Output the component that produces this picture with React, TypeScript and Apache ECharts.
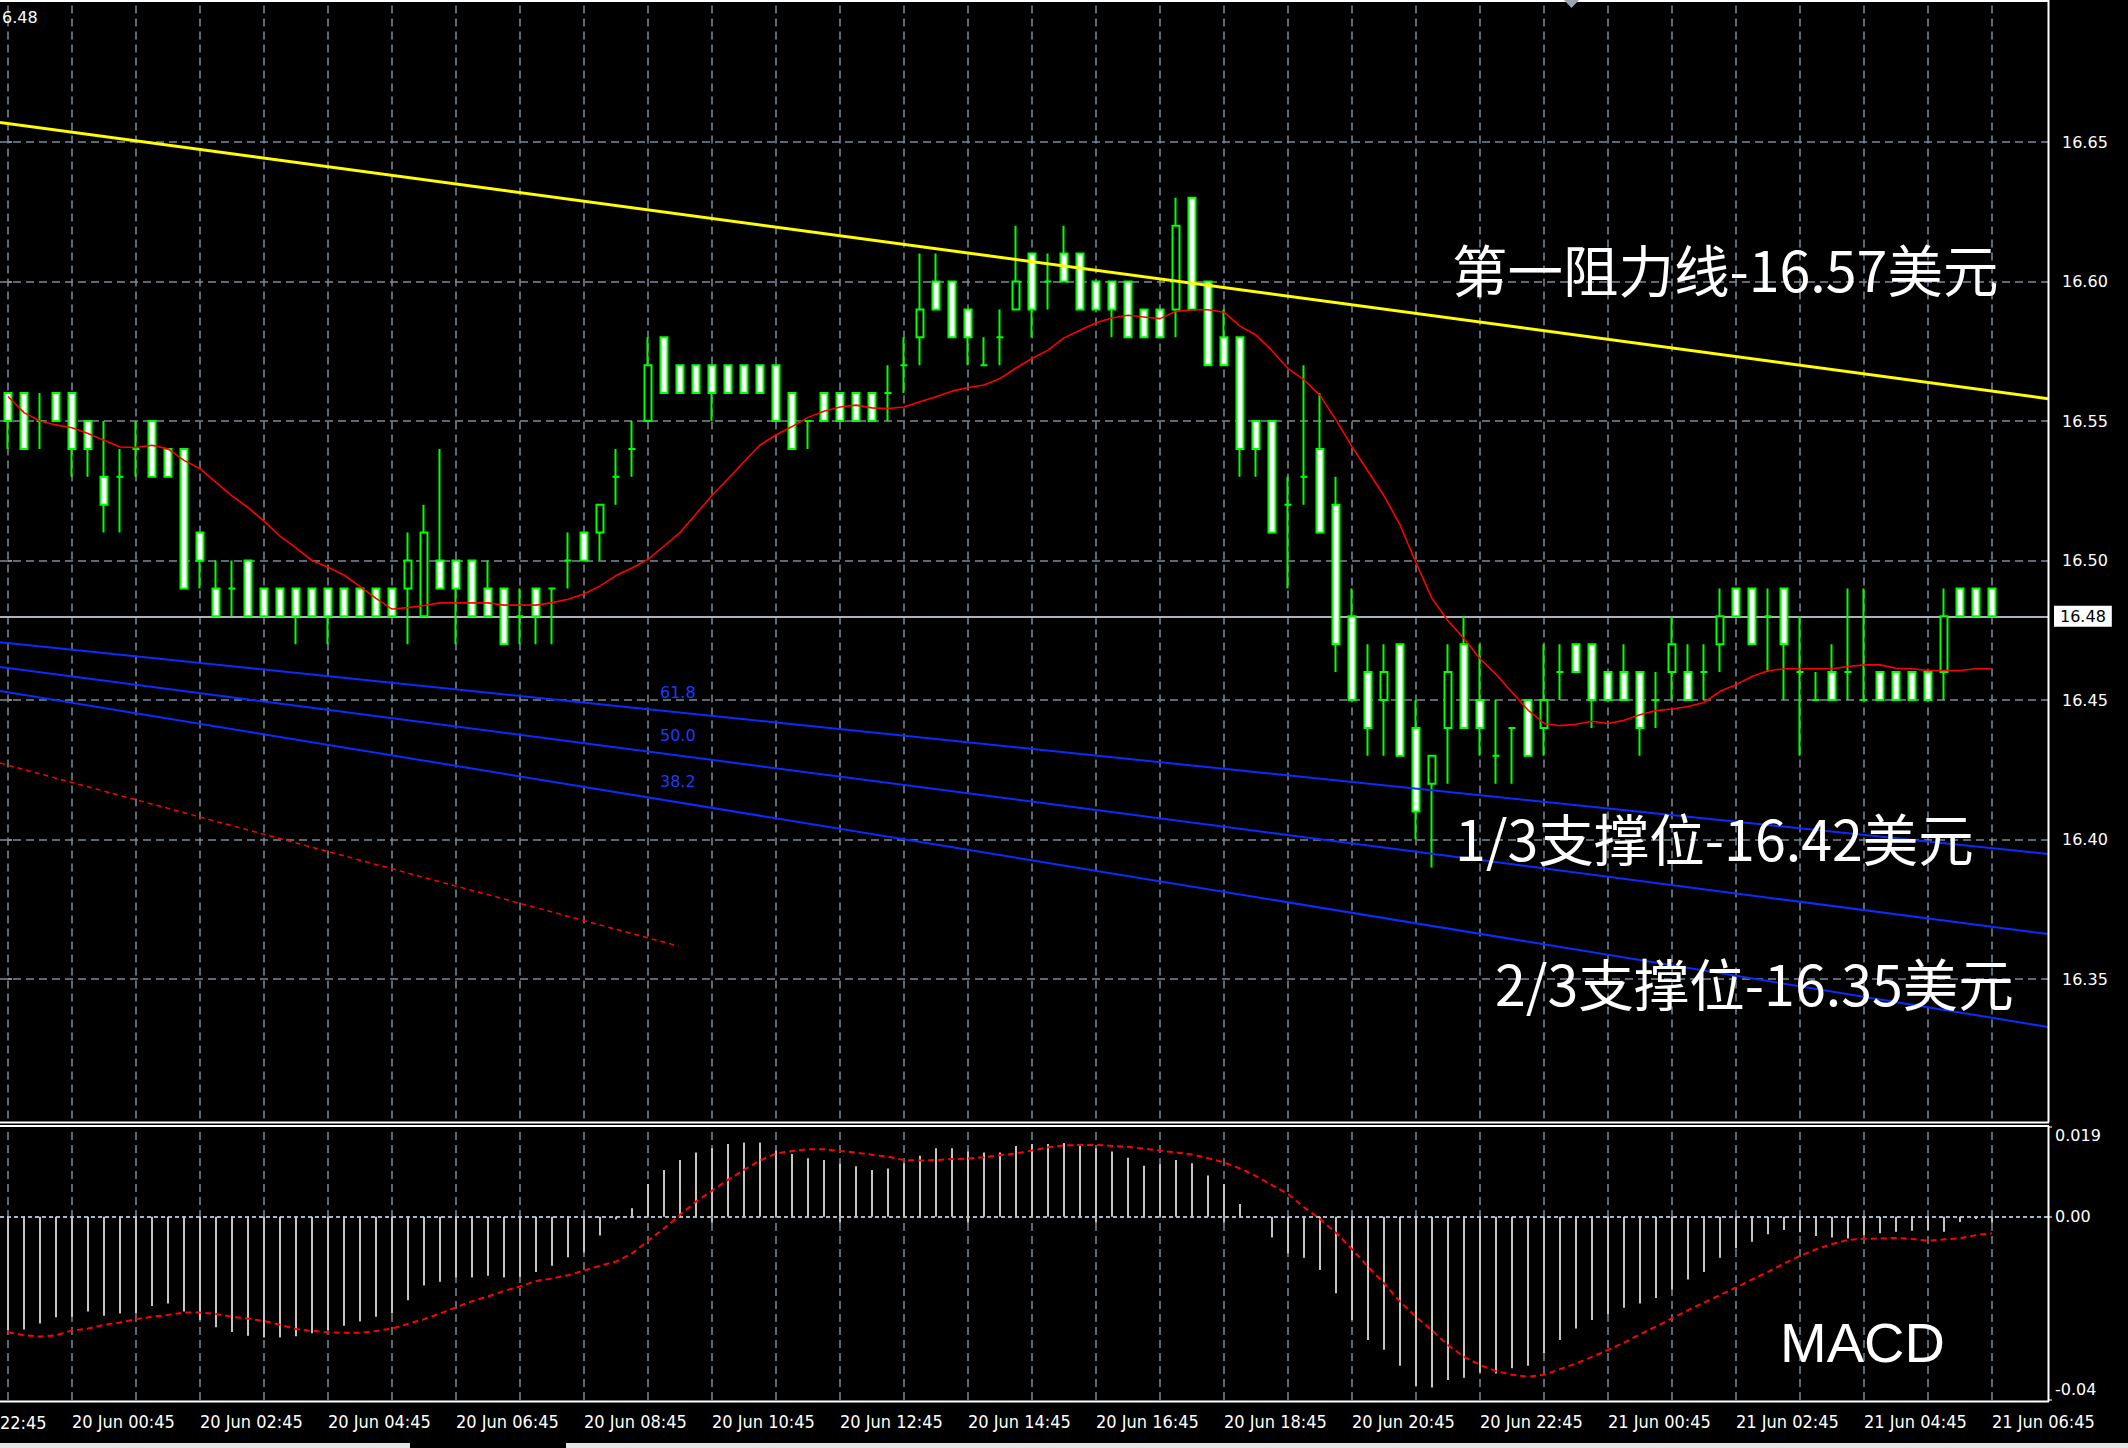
import React, { useEffect, useRef } from "react";
import * as echarts from "echarts";

// ---- time slots: 15-minute bars from 19 Jun 23:45, plus 3 empty slots on the right ----
const FIRST_DAY = 19;
const FIRST_MINUTE = 23 * 60 + 45;
const BAR_MINUTES = 15;
const SLOT_COUNT = 128;

const times: string[] = Array.from({ length: SLOT_COUNT }, (_, i) => {
  const t = FIRST_MINUTE + BAR_MINUTES * i;
  const day = FIRST_DAY + Math.floor(t / 1440);
  const m = t % 1440;
  const hh = String(Math.floor(m / 60)).padStart(2, "0");
  const mm = String(m % 60).padStart(2, "0");
  return `${day} Jun ${hh}:${mm}`;
});

// ---- candles: [open, close, low, high] ----
const ohlc: number[][] = [
  [16.56, 16.55, 16.54, 16.56], [16.56, 16.54, 16.54, 16.56], [16.55, 16.55, 16.54, 16.56], [16.56, 16.55, 16.55, 16.56],
  [16.56, 16.54, 16.53, 16.56], [16.55, 16.54, 16.53, 16.55], [16.53, 16.52, 16.51, 16.55], [16.53, 16.53, 16.51, 16.54],
  [16.54, 16.54, 16.53, 16.55], [16.55, 16.53, 16.53, 16.55], [16.54, 16.53, 16.53, 16.54], [16.54, 16.49, 16.49, 16.54],
  [16.51, 16.50, 16.49, 16.51], [16.49, 16.48, 16.48, 16.50], [16.49, 16.49, 16.48, 16.50], [16.50, 16.48, 16.48, 16.50],
  [16.49, 16.48, 16.48, 16.49], [16.49, 16.48, 16.48, 16.49], [16.49, 16.48, 16.47, 16.49], [16.49, 16.48, 16.48, 16.49],
  [16.49, 16.48, 16.47, 16.49], [16.49, 16.48, 16.48, 16.49], [16.49, 16.48, 16.48, 16.49], [16.49, 16.48, 16.48, 16.49],
  [16.49, 16.48, 16.48, 16.49], [16.49, 16.50, 16.47, 16.51], [16.48, 16.51, 16.48, 16.52], [16.50, 16.49, 16.49, 16.54],
  [16.50, 16.49, 16.47, 16.50], [16.50, 16.48, 16.48, 16.50], [16.49, 16.48, 16.48, 16.50], [16.49, 16.47, 16.47, 16.49],
  [16.48, 16.48, 16.47, 16.49], [16.49, 16.48, 16.47, 16.49], [16.49, 16.49, 16.47, 16.49], [16.50, 16.50, 16.49, 16.51],
  [16.51, 16.50, 16.50, 16.51], [16.51, 16.52, 16.50, 16.52], [16.53, 16.53, 16.52, 16.54], [16.54, 16.54, 16.53, 16.55],
  [16.55, 16.57, 16.55, 16.58], [16.58, 16.56, 16.56, 16.58], [16.57, 16.56, 16.56, 16.57], [16.57, 16.56, 16.56, 16.57],
  [16.57, 16.56, 16.55, 16.57], [16.57, 16.56, 16.56, 16.57], [16.57, 16.56, 16.56, 16.57], [16.57, 16.56, 16.56, 16.57],
  [16.57, 16.55, 16.55, 16.57], [16.56, 16.54, 16.54, 16.56], [16.55, 16.55, 16.54, 16.55], [16.56, 16.55, 16.55, 16.56],
  [16.56, 16.55, 16.55, 16.56], [16.56, 16.55, 16.55, 16.56], [16.56, 16.55, 16.55, 16.56], [16.56, 16.56, 16.55, 16.57],
  [16.57, 16.57, 16.56, 16.58], [16.58, 16.59, 16.57, 16.61], [16.60, 16.59, 16.59, 16.61], [16.60, 16.58, 16.58, 16.60],
  [16.59, 16.58, 16.57, 16.59], [16.57, 16.57, 16.57, 16.58], [16.58, 16.58, 16.57, 16.59], [16.59, 16.60, 16.59, 16.62],
  [16.61, 16.59, 16.58, 16.61], [16.60, 16.60, 16.59, 16.61], [16.61, 16.60, 16.60, 16.62], [16.61, 16.59, 16.59, 16.61],
  [16.60, 16.59, 16.59, 16.60], [16.60, 16.59, 16.58, 16.60], [16.60, 16.58, 16.58, 16.60], [16.59, 16.58, 16.58, 16.59],
  [16.59, 16.58, 16.58, 16.59], [16.59, 16.62, 16.58, 16.63], [16.63, 16.59, 16.59, 16.63], [16.60, 16.57, 16.57, 16.60],
  [16.58, 16.57, 16.57, 16.59], [16.58, 16.54, 16.53, 16.58], [16.55, 16.54, 16.53, 16.55], [16.55, 16.51, 16.51, 16.55],
  [16.52, 16.52, 16.49, 16.53], [16.53, 16.53, 16.52, 16.57], [16.54, 16.51, 16.51, 16.56], [16.52, 16.47, 16.46, 16.53],
  [16.48, 16.45, 16.45, 16.49], [16.46, 16.44, 16.43, 16.47], [16.45, 16.46, 16.43, 16.47], [16.47, 16.43, 16.43, 16.47],
  [16.44, 16.41, 16.40, 16.45], [16.42, 16.43, 16.39, 16.43], [16.44, 16.46, 16.42, 16.47], [16.47, 16.44, 16.44, 16.48],
  [16.45, 16.44, 16.43, 16.47], [16.43, 16.43, 16.42, 16.45], [16.44, 16.44, 16.42, 16.44], [16.45, 16.43, 16.43, 16.45],
  [16.44, 16.45, 16.43, 16.47], [16.46, 16.46, 16.45, 16.47], [16.47, 16.46, 16.46, 16.47], [16.47, 16.45, 16.44, 16.47],
  [16.46, 16.45, 16.45, 16.46], [16.46, 16.45, 16.45, 16.47], [16.46, 16.44, 16.43, 16.46], [16.45, 16.45, 16.44, 16.46],
  [16.46, 16.47, 16.45, 16.48], [16.46, 16.45, 16.45, 16.47], [16.46, 16.46, 16.45, 16.47], [16.47, 16.48, 16.46, 16.49],
  [16.49, 16.48, 16.48, 16.49], [16.49, 16.47, 16.47, 16.49], [16.48, 16.48, 16.46, 16.49], [16.49, 16.47, 16.45, 16.49],
  [16.46, 16.46, 16.43, 16.48], [16.45, 16.45, 16.45, 16.46], [16.46, 16.45, 16.45, 16.47], [16.46, 16.46, 16.45, 16.49],
  [16.45, 16.45, 16.45, 16.49], [16.46, 16.45, 16.45, 16.46], [16.46, 16.45, 16.45, 16.46], [16.46, 16.45, 16.45, 16.46],
  [16.46, 16.45, 16.45, 16.46], [16.46, 16.48, 16.45, 16.49], [16.49, 16.48, 16.48, 16.49], [16.49, 16.48, 16.48, 16.49],
  [16.49, 16.48, 16.48, 16.49],
];

// ---- moving average (red) ----
const movingAverage: number[] = [
  16.5588, 16.553, 16.55, 16.5486, 16.5476, 16.5455, 16.5431, 16.5407, 16.5405, 16.5413,
  16.54, 16.5359, 16.5329, 16.528, 16.5232, 16.519, 16.5141, 16.5087, 16.5045, 16.5,
  16.4976, 16.4948, 16.4906, 16.4864, 16.4826, 16.4831, 16.4839, 16.4848, 16.4848, 16.4848,
  16.4848, 16.484, 16.484, 16.484, 16.4849, 16.4861, 16.488, 16.4909, 16.4946, 16.4973,
  16.5004, 16.5052, 16.51, 16.5167, 16.5233, 16.5293, 16.5354, 16.5414, 16.545, 16.548,
  16.5513, 16.5535, 16.555, 16.5557, 16.5547, 16.5545, 16.555, 16.5569, 16.5587, 16.5607,
  16.562, 16.5629, 16.5652, 16.569, 16.5724, 16.5754, 16.5798, 16.5825, 16.5852, 16.5869,
  16.5879, 16.5873, 16.5867, 16.5893, 16.5899, 16.5899, 16.589, 16.584, 16.5808, 16.5752,
  16.5688, 16.5648, 16.5592, 16.5504, 16.5408, 16.532, 16.5232, 16.5128, 16.4992, 16.4864,
  16.4784, 16.472, 16.4648, 16.4592, 16.4528, 16.4464, 16.4416, 16.4408, 16.4413, 16.4424,
  16.4416, 16.4427, 16.4447, 16.4462, 16.4468, 16.4477, 16.4491, 16.4531, 16.4555, 16.4584,
  16.4605, 16.4612, 16.4612, 16.4612, 16.4612, 16.462, 16.4626, 16.4626, 16.4614, 16.4612,
  16.4606, 16.4606, 16.4606, 16.4612, 16.4612,
];

// ---- MACD histogram and signal ----
const macdMain: number[] = [
  -0.024, -0.0239, -0.0226, -0.0213, -0.0212, -0.0201, -0.021, -0.0205, -0.0205, -0.0189,
  -0.0184, -0.0201, -0.0219, -0.0234, -0.0244, -0.0252, -0.0256, -0.0256, -0.0253, -0.0247,
  -0.024, -0.0231, -0.0222, -0.0212, -0.0205, -0.0177, -0.0146, -0.0138, -0.0129, -0.0129,
  -0.0125, -0.0129, -0.0127, -0.0117, -0.0104, -0.0086, -0.0076, -0.004, -0.0006, 0.0018,
  0.0069, 0.0099, 0.012, 0.0136, 0.0145, 0.0154, 0.0157, 0.0157, 0.014, 0.0133,
  0.0124, 0.012, 0.0112, 0.0107, 0.0099, 0.0102, 0.0113, 0.0129, 0.0145, 0.0145,
  0.0138, 0.0136, 0.0136, 0.015, 0.0154, 0.0154, 0.0156, 0.0152, 0.0145, 0.0138,
  0.0125, 0.0108, 0.0111, 0.012, 0.0113, 0.0087, 0.0069, 0.0027, -0.0002, -0.0044,
  -0.0078, -0.0087, -0.0113, -0.0162, -0.0219, -0.0261, -0.0282, -0.0316, -0.0358, -0.0362,
  -0.0346, -0.0341, -0.033, -0.0332, -0.0321, -0.0316, -0.0289, -0.0261, -0.0237, -0.0219,
  -0.0206, -0.0193, -0.0184, -0.0172, -0.0154, -0.0133, -0.0117, -0.0087, -0.0067, -0.0053,
  -0.0037, -0.0028, -0.0033, -0.0041, -0.0044, -0.0046, -0.004, -0.0035, -0.0032, -0.003,
  -0.0028, -0.0032, -0.0011, -0.0005, -0.0001,
];

const macdSignal: number[] = [
  -0.0245, -0.0251, -0.0254, -0.0251, -0.0241, -0.0237, -0.0229, -0.0224, -0.0217, -0.0212,
  -0.0208, -0.0203, -0.0203, -0.0206, -0.0212, -0.0216, -0.0221, -0.0229, -0.0238, -0.0242,
  -0.0245, -0.0246, -0.0246, -0.0242, -0.0237, -0.0227, -0.0217, -0.0205, -0.0192, -0.0179,
  -0.0169, -0.0157, -0.0148, -0.0136, -0.0131, -0.0124, -0.0114, -0.0104, -0.0095, -0.0078,
  -0.0051, -0.0025, 0.0004, 0.0032, 0.0055, 0.0078, 0.0099, 0.0119, 0.0134, 0.0139,
  0.0143, 0.0143, 0.0139, 0.0136, 0.0131, 0.0127, 0.012, 0.0119, 0.012, 0.0122,
  0.0123, 0.0126, 0.013, 0.0134, 0.014, 0.0147, 0.0151, 0.0152, 0.0152, 0.015,
  0.0148, 0.0144, 0.014, 0.0136, 0.0132, 0.0124, 0.0115, 0.0102, 0.0086, 0.0067,
  0.0048, 0.002, -0.0005, -0.0034, -0.0069, -0.0106, -0.0141, -0.018, -0.0212, -0.0241,
  -0.0272, -0.0297, -0.0314, -0.0327, -0.0335, -0.0339, -0.0335, -0.0323, -0.0311, -0.0297,
  -0.0282, -0.0267, -0.0249, -0.0233, -0.0215, -0.0198, -0.0182, -0.0166, -0.015, -0.0133,
  -0.0117, -0.0099, -0.0083, -0.0069, -0.0058, -0.0049, -0.0047, -0.0046, -0.0045, -0.0047,
  -0.0051, -0.0048, -0.0046, -0.0039, -0.0035,
];

// ---- drawn objects: [bar position, price] end points ----
const resistanceLine = [[-0.5, 16.657], [127.5, 16.558]];
const fanLine618 = [[-0.5, 16.4707], [127.5, 16.3948]];
const fanLine500 = [[-0.5, 16.4618], [127.5, 16.3661]];
const fanLine382 = [[-0.5, 16.4532], [127.5, 16.3328]];
const redSegment = [[-0.5, 16.4274], [41.9, 16.3618]];

// ---- axis ranges ----
const PRICE_MIN = 16.3;
const PRICE_MAX = 16.7;
const PRICE_STEP = 0.05;
const MACD_MIN = -0.03883;
const MACD_MAX = 0.019;
const macdTickValues = [MACD_MAX, 0, MACD_MIN];
const macdLabelValues = [0.0171, 0, -0.0367];
const macdLabelTexts = ["0.019", "0.00", "-0.04"];

const AXIS_FONT = "'DejaVu Sans', sans-serif";
const TIME_FONT = "'DejaVu Sans Condensed', 'Liberation Sans Narrow', 'DejaVu Sans', sans-serif";
const CJK_FONT = "'Noto Sans CJK SC', 'Noto Sans CJK TC', sans-serif";
const GRID_COLOR = "#7b8a99";
const GRID_DASH = [8, 5];
const CANDLE_GREEN = "#00ff00";

const barCount = ohlc.length;
const lastClose = ohlc[barCount - 1][1];

const isHourSlot = (i: number) => times[i].endsWith(":45") && i < barCount;
const isLabelSlot = (i: number) => {
  if (!isHourSlot(i)) return false;
  const hh = Number(times[i].slice(-5, -3));
  return hh % 2 === 0;
};
const hourSlots = times.filter((_, i) => isHourSlot(i));

const verticalGrid = hourSlots.map((name) => ({ xAxis: name }));

function buildOption(): echarts.EChartsOption {
  const trend = (name: string, data: number[][], color: string, width: number, type: any = "solid") => ({
    name,
    type: "line" as const,
    xAxisIndex: 2,
    yAxisIndex: 0,
    data,
    z: 4,
    silent: true,
    showSymbol: false,
    symbol: "none",
    lineStyle: { color, width, type },
  });

  const whiteLine = (x1: number, y1: number, x2: number, y2: number) => ({
    type: "line",
    silent: true,
    shape: { x1, y1, x2, y2 },
    style: { stroke: "#ffffff", lineWidth: 2 },
    z: 50,
  });

  const text = (t: string, x: number, y: number, fontSize: number, fontFamily: string, fill = "#ffffff") => ({
    type: "text",
    silent: true,
    x,
    y,
    z: 60,
    style: { text: t, fill, fontSize, fontFamily, align: "left", verticalAlign: "middle" },
  });

  return {
    animation: false,
    backgroundColor: "#000000",
    grid: [
      { left: -1, top: 2.5, width: 2049, height: 1116 },
      { left: -1, top: 1127, width: 2049, height: 273 },
    ],
    xAxis: [
      { type: "category", gridIndex: 0, data: times, show: false },
      {
        type: "category",
        gridIndex: 1,
        data: times,
        axisLine: { show: false },
        splitLine: { show: false },
        axisTick: {
          show: true,
          alignWithLabel: true,
          interval: (i: number) => isLabelSlot(i),
          length: 6,
          lineStyle: { color: "#ffffff", width: 1.5 },
        },
        axisLabel: {
          interval: (i: number) => isLabelSlot(i),
          align: "left",
          verticalAlign: "top",
          margin: 12,
          color: "#ffffff",
          fontSize: 18,
          lineHeight: 18,
          fontFamily: TIME_FONT,
        },
      },
      { type: "value", gridIndex: 0, min: -0.5, max: SLOT_COUNT - 0.5, show: false },
    ],
    yAxis: [
      {
        type: "value",
        gridIndex: 0,
        position: "right",
        min: PRICE_MIN,
        max: PRICE_MAX,
        interval: PRICE_STEP,
        axisLine: { show: false },
        axisTick: { show: true, length: 4, lineStyle: { color: "#b8b8b8", width: 1.5 } },
        axisLabel: {
          showMinLabel: false,
          showMaxLabel: false,
          margin: 14,
          color: "#ffffff",
          fontSize: 16,
          fontFamily: AXIS_FONT,
          formatter: (v: number) => v.toFixed(2),
        },
        splitLine: {
          show: true,
          showMinLine: false,
          showMaxLine: false,
          lineStyle: { color: GRID_COLOR, type: GRID_DASH, width: 1.5 },
        },
      },
      {
        type: "value",
        gridIndex: 1,
        position: "right",
        min: MACD_MIN,
        max: MACD_MAX,
        axisLine: { show: false },
        splitLine: { show: false },
        axisTick: {
          show: true,
          customValues: macdTickValues,
          length: 4,
          lineStyle: { color: "#b8b8b8", width: 1.5 },
        },
        axisLabel: {
          customValues: macdLabelValues,
          margin: 7,
          color: "#ffffff",
          fontSize: 16,
          fontFamily: AXIS_FONT,
          formatter: (v: number) => macdLabelTexts[macdLabelValues.indexOf(v)] ?? "",
        },
      } as any,
    ],
    series: [
      {
        name: "hour-grid",
        type: "line",
        xAxisIndex: 0,
        yAxisIndex: 0,
        data: [],
        silent: true,
        markLine: {
          z: 1,
          silent: true,
          symbol: "none",
          label: { show: false },
          lineStyle: { color: GRID_COLOR, type: GRID_DASH, width: 1.5 },
          data: verticalGrid,
        },
      },
      {
        name: "bid",
        type: "line",
        xAxisIndex: 0,
        yAxisIndex: 0,
        data: [],
        silent: true,
        markLine: {
          z: 2,
          silent: true,
          symbol: "none",
          lineStyle: { color: "#a9b3bd", type: "solid", width: 2 },
          label: {
            show: true,
            position: "end",
            distance: 6,
            formatter: lastClose.toFixed(2),
            color: "#000000",
            backgroundColor: "#ffffff",
            padding: [2, 6, 2, 6],
            fontSize: 16,
            lineHeight: 17,
            fontFamily: AXIS_FONT,
          },
          data: [{ yAxis: lastClose }],
        },
      },
      {
        name: "XAGUSD,M15",
        type: "candlestick",
        xAxisIndex: 0,
        yAxisIndex: 0,
        z: 3,
        barWidth: 8,
        silent: true,
        data: ohlc,
        itemStyle: {
          color: "#000000",
          color0: "#ffffff",
          borderColor: CANDLE_GREEN,
          borderColor0: CANDLE_GREEN,
          borderColorDoji: CANDLE_GREEN,
          borderWidth: 2,
        },
      } as any,
      {
        name: "MA",
        type: "line",
        xAxisIndex: 0,
        yAxisIndex: 0,
        z: 5,
        silent: true,
        data: movingAverage,
        showSymbol: false,
        symbol: "none",
        lineStyle: { color: "#ff0000", width: 1.6 },
      },
      trend("resistance", resistanceLine, "#ffff00", 3),
      trend("fan 61.8", fanLine618, "#0a2cff", 2),
      trend("fan 50.0", fanLine500, "#0a2cff", 2),
      trend("fan 38.2", fanLine382, "#0a2cff", 2),
      trend("segment", redSegment, "#ff0000", 1.5, [5, 4]),
      {
        name: "macd-grid",
        type: "line",
        xAxisIndex: 1,
        yAxisIndex: 1,
        data: [],
        silent: true,
        markLine: {
          z: 1,
          silent: true,
          symbol: "none",
          label: { show: false },
          data: [
            ...verticalGrid.map((d) => ({ ...d, lineStyle: { color: GRID_COLOR, type: GRID_DASH, width: 1.5 } })),
            { yAxis: 0, lineStyle: { color: "#a8b6c4", type: [4, 3], width: 2 } },
          ],
        },
      },
      {
        name: "MACD",
        type: "bar",
        xAxisIndex: 1,
        yAxisIndex: 1,
        z: 3,
        silent: true,
        barWidth: 2,
        data: macdMain,
        itemStyle: { color: "#c4c4c4" },
      },
      {
        name: "Signal",
        type: "line",
        xAxisIndex: 1,
        yAxisIndex: 1,
        z: 4,
        silent: true,
        data: macdSignal,
        showSymbol: false,
        symbol: "none",
        lineStyle: { color: "#ff0000", width: 2, type: [6, 4] },
      },
    ],
    graphic: [
      // panel frames
      whiteLine(0, 1, 2049, 1),
      whiteLine(2048.5, 0, 2048.5, 1122.5),
      whiteLine(0, 1122.5, 2049, 1122.5),
      whiteLine(0, 1126, 2049, 1126),
      whiteLine(2048.5, 1126, 2048.5, 1401.5),
      whiteLine(0, 1401.5, 2049, 1401.5),
      {
        type: "polygon",
        silent: true,
        z: 55,
        shape: { points: [[1564, 0], [1579, 0], [1571.5, 8]] },
        style: { fill: "#9aa4ae" },
      },
      { type: "rect", silent: true, z: 40, shape: { x: 0, y: 1443, width: 410, height: 5 }, style: { fill: "#e4e4e4" } },
      { type: "rect", silent: true, z: 40, shape: { x: 566, y: 1443, width: 1562, height: 5 }, style: { fill: "#e4e4e4" } },
      // corner price and clipped first time label
      text("6.48", 2, 17, 16, AXIS_FONT),
      {
        type: "text",
        silent: true,
        x: 0,
        y: 1413,
        z: 60,
        style: { text: "22:45", fill: "#ffffff", fontSize: 18, lineHeight: 18, fontFamily: TIME_FONT, align: "left", verticalAlign: "top" },
      },
      // fan level captions
      text("61.8", 660, 692, 16, AXIS_FONT, "#1a3cff"),
      text("50.0", 660, 735, 16, AXIS_FONT, "#1a3cff"),
      text("38.2", 660, 781, 16, AXIS_FONT, "#1a3cff"),
      // annotations
      text("第一阻力线-16.57美元", 1452, 268, 55.5, CJK_FONT),
      text("1/3支撑位-16.42美元", 1455, 837, 55.5, CJK_FONT),
      text("2/3支撑位-16.35美元", 1495, 982, 55.5, CJK_FONT),
      text("MACD", 1780, 1342, 56, "'Liberation Sans', Arial, sans-serif"),
    ] as any,
  };
}

export default function App() {
  const ref = useRef<HTMLDivElement>(null);
  useEffect(() => {
    if (!ref.current) return;
    const chart = echarts.init(ref.current, undefined, { renderer: "svg" });
    chart.setOption(buildOption());
    return () => chart.dispose();
  }, []);
  return (
    <div
      ref={ref}
      style={{ position: "absolute", left: 0, top: 0, width: 2128, height: 1448, background: "#000" }}
    />
  );
}
